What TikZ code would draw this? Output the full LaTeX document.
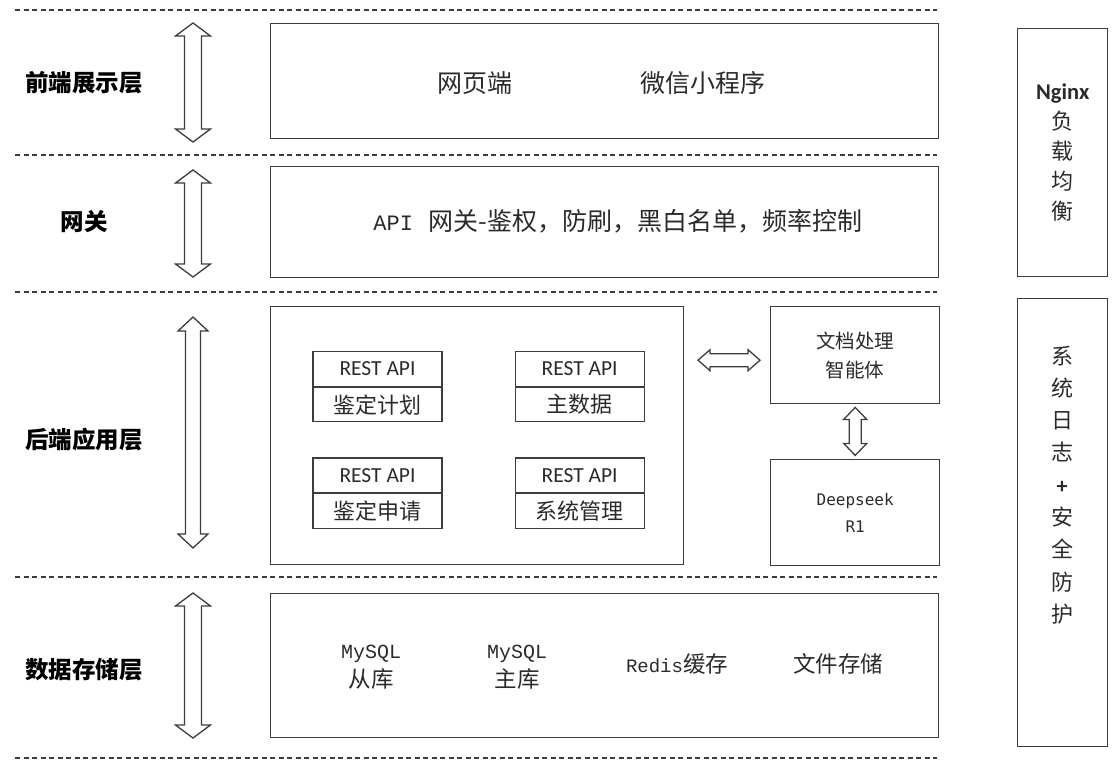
\documentclass[tikz,border=0pt]{standalone}
\usepackage{fontspec}
\setmainfont{Noto Sans CJK SC}
\newfontfamily\apifont{Carlito}
\newfontfamily\codefont{Liberation Mono}
\newfontfamily\seekfont{DejaVu Sans Mono}
\usepackage{tikz}
\usetikzlibrary{positioning}

\definecolor{linegray}{HTML}{3C3C3C}
\definecolor{textgray}{HTML}{2A2A2A}

\begin{document}
\begin{tikzpicture}[
  x=1pt, y=-1pt,
  panel/.style={rectangle,draw=linegray,line width=1.4pt,anchor=north west,inner sep=0pt,align=center,text=textgray},
  layername/.style={font=\bfseries\fontsize{23.5}{28}\selectfont,text=black},
  boxtext/.style={font=\fontsize{25}{30}\selectfont,text=textgray,align=center},
  storetext/.style={font=\fontsize{22.5}{29}\selectfont,text=textgray,align=center},
  apihead/.style={rectangle,draw=linegray,line width=1.1pt,minimum width=129pt,minimum height=34.5pt,inner sep=0pt,text=textgray,font=\apifont\fontsize{21.5}{24}\selectfont},
  apibody/.style={apihead,font=\fontsize{22}{24}\selectfont},
  arrowline/.style={draw=linegray,line width=1.3pt,fill=white,line join=miter},
  halflen/.store in=\halflen, shaft/.store in=\shafthalf,
  head/.store in=\headhalf, headlen/.store in=\headlen,
  halflen=50, shaft=8.5, head=17.5, headlen=13,
  dblarrow/.pic={
    \draw[arrowline] (-\shafthalf,-\halflen+\headlen) -- (-\headhalf,-\halflen+\headlen) -- (0,-\halflen)
      -- (\headhalf,-\halflen+\headlen) -- (\shafthalf,-\halflen+\headlen) -- (\shafthalf,\halflen-\headlen)
      -- (\headhalf,\halflen-\headlen) -- (0,\halflen) -- (-\headhalf,\halflen-\headlen)
      -- (-\shafthalf,\halflen-\headlen) -- cycle;
  },
  sep/.style={dashed,dash pattern=on 5pt off 3.5pt,line width=1.1pt,draw=linegray}
]
  \useasboundingbox (0,0) rectangle (1113,762);

  % layer separators
  \foreach \sy in {10,155,292,577,758}
    \draw[sep] (15,\sy) -- (937,\sy);

  % layer names
  \node[layername] (frontname) at (84,83) {前端展示层};
  \node[layername] (gatename) at (84,222) {网关};
  \node[layername] (backname) at (84,440) {后端应用层};
  \node[layername] (storename) at (84,670) {数据存储层};

  % up/down arrows
  \pic[halflen=59.5] (frontarrow) at (193,82.5) {dblarrow};
  \pic[halflen=53.5] (gatearrow) at (193,223.5) {dblarrow};
  \pic[halflen=115.5,shaft=7.5,head=15,headlen=14] (backarrow) at (193,432.5) {dblarrow};
  \pic[halflen=72.5] (storearrow) at (193,665.5) {dblarrow};

  % front end
  \node[panel,minimum width=668pt,minimum height=115pt] (front) at (270,23) {};
  \node[boxtext] (web) at (475,83) {网页端};
  \node[boxtext] (wechat) at (703,83) {微信小程序};

  % gateway
  \node[panel,minimum width=668pt,minimum height=111pt] (gateway) at (270,166) {};
  \node[boxtext] (gatetext) at (618,221)
    {{\codefont\fontsize{22}{30}\selectfont API}\hspace{16pt}网关-鉴权，防刷，黑白名单，频率控制};

  % backend
  \node[panel,minimum width=413pt,minimum height=258pt] (backend) at (270,306) {};
  \node[apihead] (planapi) at (377.5,369) {REST API};
  \node[apibody,below=0pt of planapi] (plan) {鉴定计划};
  \node[apihead,right=72pt of planapi] (dataapi) {REST API};
  \node[apibody,below=0pt of dataapi] (masterdata) {主数据};
  \node[apihead,below=35pt of plan] (applyapi) {REST API};
  \node[apibody,below=0pt of applyapi] (apply) {鉴定申请};
  \node[apihead,below=35pt of masterdata] (sysapi) {REST API};
  \node[apibody,below=0pt of sysapi] (sysmgmt) {系统管理};

  \node[panel,minimum width=169pt,minimum height=97pt,font=\fontsize{19.5}{29}\selectfont]
    (agent) at (770,306) {文档处理\\智能体};
  \node[panel,minimum width=169pt,minimum height=106pt,font=\seekfont\fontsize{16}{27}\selectfont]
    (llm) at (770,459) {Deepseek\\R1};

  \pic[rotate=90,halflen=31,shaft=6.5,head=10.5,headlen=12] (agentlink) at ([xshift=-41pt,yshift=-5pt]agent.west) {dblarrow};
  \pic[halflen=24,shaft=6,head=11.5,headlen=12] (llmlink) at ([yshift=-27pt]agent.south) {dblarrow};

  % storage
  \node[panel,minimum width=668pt,minimum height=144pt] (storage) at (270,593) {};
  \node[storetext] (slave) at (371,667) {{\codefont\fontsize{20}{29}\selectfont MySQL}\\从库};
  \node[storetext] (master) at (517,667) {{\codefont\fontsize{20}{29}\selectfont MySQL}\\主库};
  \node[storetext] (redis) at (677,664) {{\codefont\fontsize{19}{29}\selectfont Redis}缓存};
  \node[storetext] (files) at (838,664) {文件存储};

  % side columns
  \node[panel,minimum width=90pt,minimum height=248pt,font=\fontsize{22}{30}\selectfont]
    (nginx) at (1017,28) {{\apifont\bfseries\fontsize{22.5}{30}\selectfont Nginx}\\负\\载\\均\\衡};
  \node[panel,minimum width=90pt,minimum height=448pt] (logs) at (1017,298) {};
  \node[boxtext,font=\fontsize{22}{32.3}\selectfont] (logtext) at (1062,485)
    {系\\统\\日\\志\\{\apifont\bfseries +}\\安\\全\\防\\护};
\end{tikzpicture}
\end{document}
